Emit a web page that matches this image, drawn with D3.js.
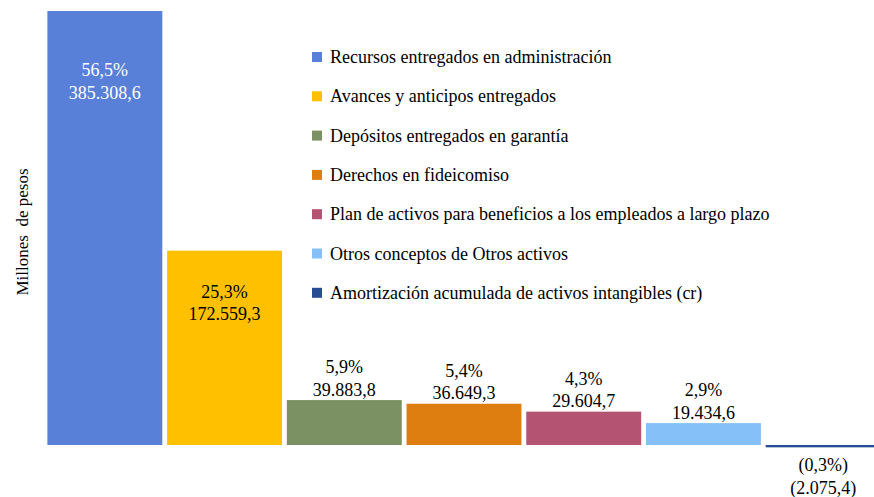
<!DOCTYPE html>
<html>
<head>
<meta charset="utf-8">
<script src="https://cdn.jsdelivr.net/npm/d3@7"></script>
</head>
<body style="margin:0">
<div id="chart"></div>
<script>
// Data
const categories = [
    "Recursos entregados en administración",
    "Avances y anticipos entregados",
    "Depósitos entregados en garantía",
    "Derechos en fideicomiso",
    "Plan de activos para beneficios a los empleados a largo plazo",
    "Otros conceptos de Otros activos",
    "Amortización acumulada de activos intangibles (cr)"
];
const values = [385308.6, 172559.3, 39883.8, 36649.3, 29604.7, 19434.6, -2075.4];
const shares = [56.5, 25.3, 5.9, 5.4, 4.3, 2.9, -0.3];
const colors = ["#5880d8", "#ffc000", "#7b9163", "#df7e10", "#b45372", "#85c0f9", "#264d94"];

const width = 874, height = 497;
const FONT = '"Liberation Serif"';
const fmtNum = v => {
    const s = d3.format(",.1f")(Math.abs(v)).replace(/,/g, "#").replace(".", ",").replace(/#/g, ".");
    return v < 0 ? `(${s})` : s;
};
const fmtPct = v => {
    const s = Math.abs(v).toFixed(1).replace(".", ",") + "%";
    return v < 0 ? `(${s})` : s;
};

const svg = d3.select("#chart").append("svg")
    .attr("width", width)
    .attr("height", height);

const x = d3.scaleBand()
    .domain(categories)
    .range([45, 883])
    .paddingInner(0.04)
    .paddingOuter(0.02);

// baseline at y=445, largest bar reaching y=11
const y = d3.scaleLinear()
    .domain([0, 385308.6])
    .range([445, 11]);

svg.selectAll(".bar")
    .data(values)
    .enter()
    .append("rect")
    .attr("class", "bar")
    .attr("x", (d, i) => x(categories[i]))
    .attr("width", x.bandwidth())
    .attr("y", d => y(Math.max(0, d)))
    .attr("height", d => Math.abs(y(d) - y(0)))
    .attr("fill", (d, i) => colors[i]);

// data labels
const labels = svg.selectAll(".lbl")
    .data(values)
    .enter()
    .append("text")
    .attr("class", "lbl")
    .style("font-family", FONT)
    .attr("text-anchor", "middle")
    .attr("font-size", 18)
    .attr("fill", (d, i) => i === 0 ? "#fff" : "#000")
    .attr("x", (d, i) => x(categories[i]) + x.bandwidth() / 2)
    .attr("y", (d, i) => {
        if (d < 0) return y(d) + 24;
        if (i === 0) return y(d) + 65;
        if (i === 1) return y(d) + 47;
        return y(d) - 27;
    });

labels.append("tspan")
    .text((d, i) => fmtPct(shares[i]));
labels.append("tspan")
    .attr("x", (d, i) => x(categories[i]) + x.bandwidth() / 2)
    .attr("dy", 22.5)
    .text(d => fmtNum(d));

// y axis title
svg.append("text")
    .style("font-family", FONT)
    .attr("transform", "translate(28,232) rotate(-90)")
    .attr("text-anchor", "middle")
    .attr("font-size", 17)
    .style("white-space", "pre")
    .text("Millones  de pesos");

// legend
const legend = svg.selectAll(".legend")
    .data(categories)
    .enter()
    .append("g")
    .attr("class", "legend")
    .attr("transform", (d, i) => `translate(312,${57 + i * 39.3})`);

legend.append("rect")
    .attr("x", 0)
    .attr("y", -5)
    .attr("width", 10)
    .attr("height", 10)
    .attr("fill", (d, i) => colors[i]);

legend.append("text")
    .style("font-family", FONT)
    .attr("x", 18)
    .attr("y", 6)
    .attr("font-size", 18)
    .text(d => d);
</script>
</body>
</html>
